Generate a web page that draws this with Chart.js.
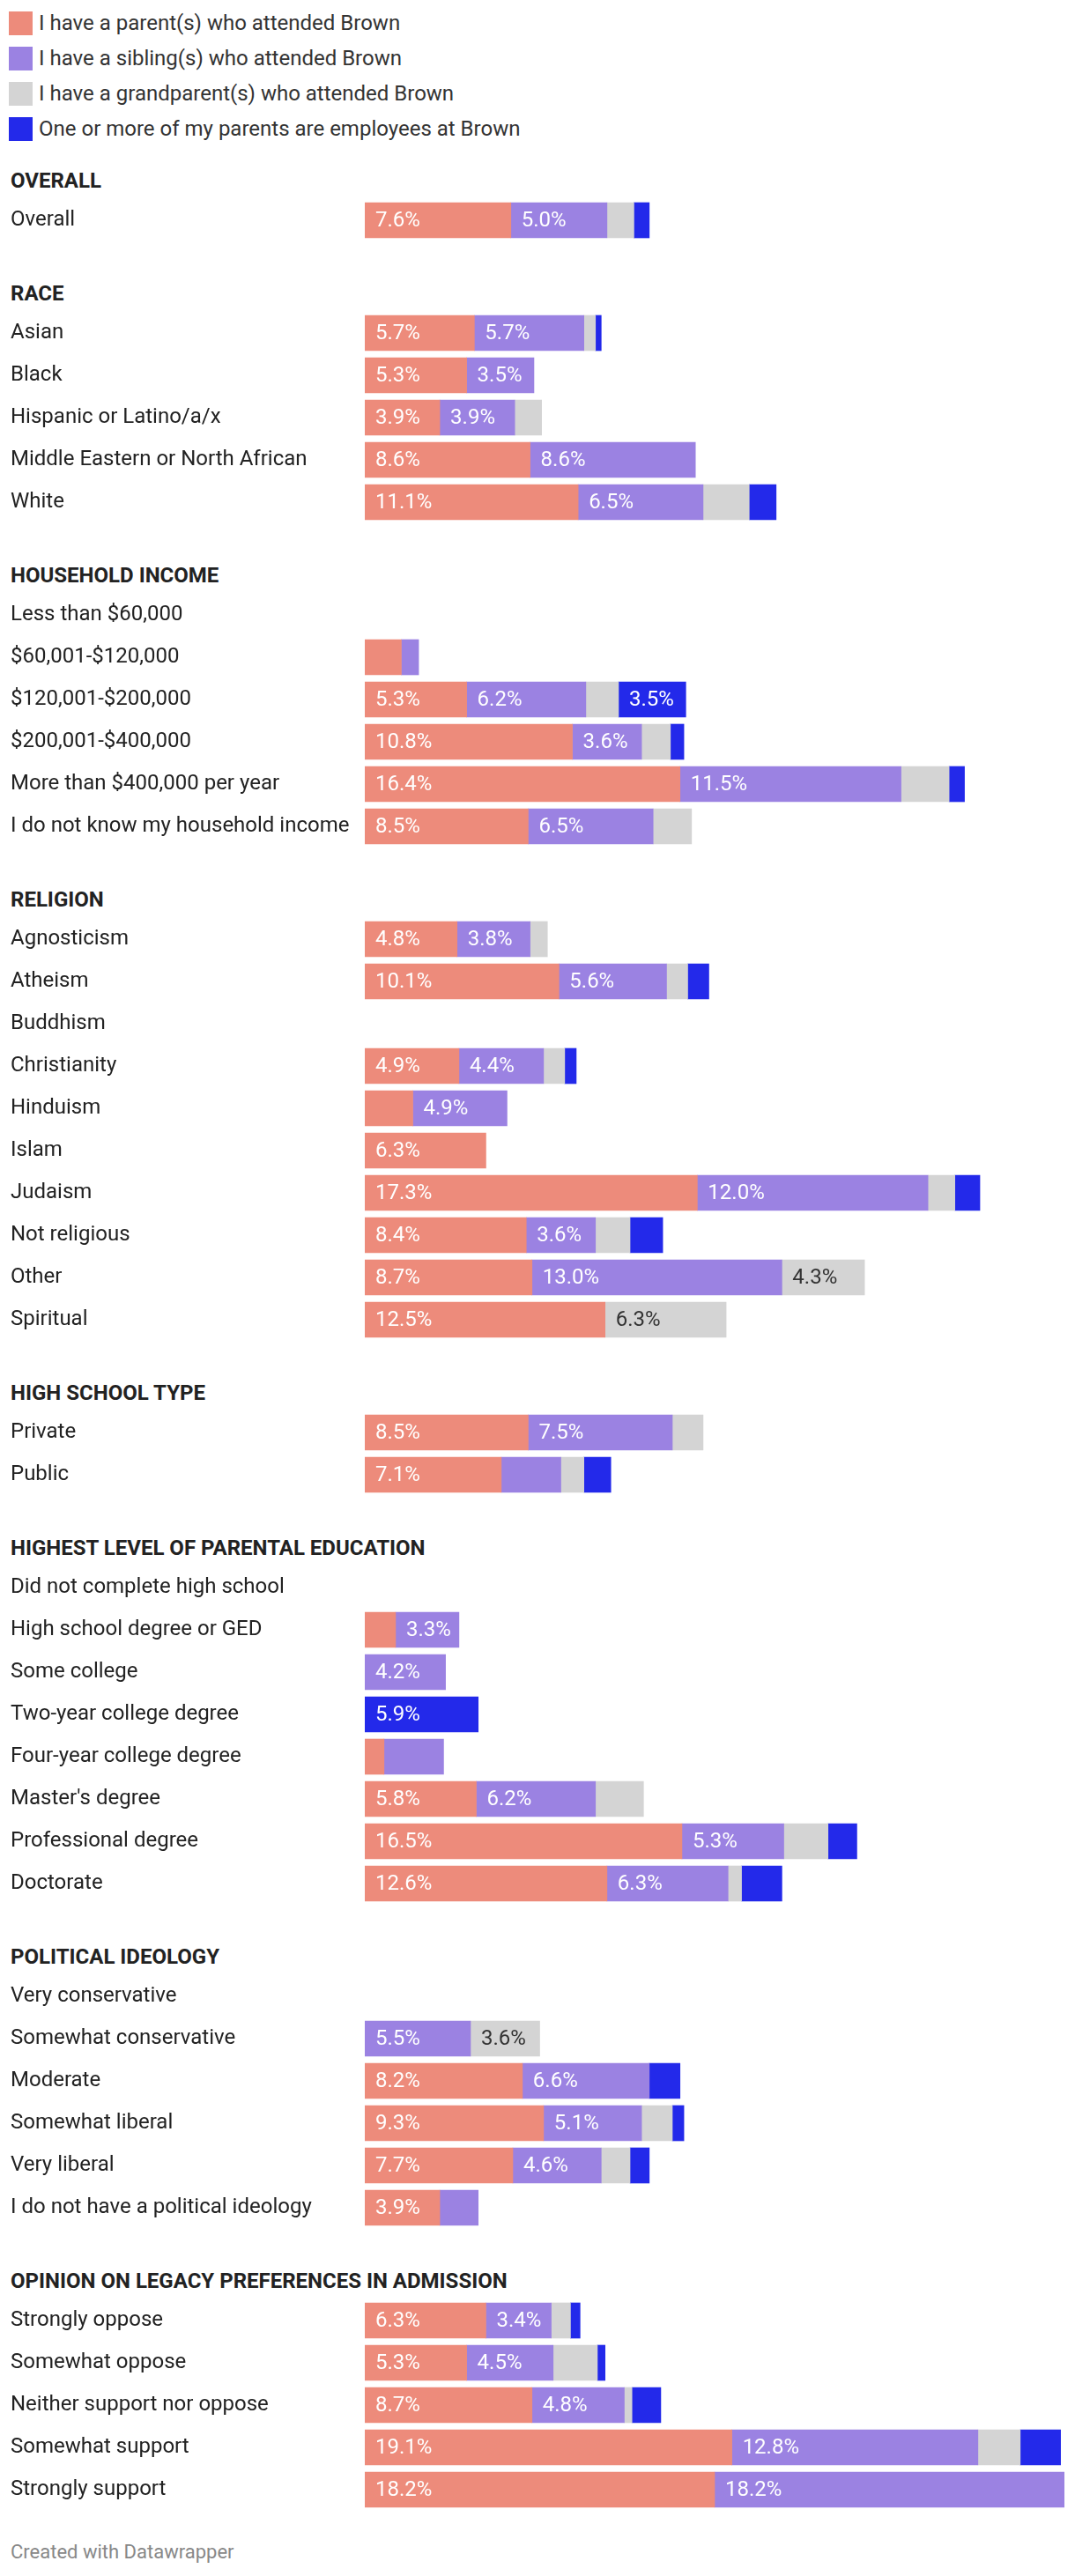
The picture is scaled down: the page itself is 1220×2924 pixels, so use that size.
<!DOCTYPE html>
<html>
<head>
<meta charset="utf-8">
<script src="https://cdn.jsdelivr.net/npm/chart.js@4.4.0/dist/chart.umd.min.js"></script>
<style>
    body {
        margin: 0;
        background: #fff;
        font-family: Roboto, sans-serif;
        color: #222;
    }
    #legend {
        padding: 6px 0 0 10px;
    }
    .legend-item {
        display: flex;
        align-items: center;
        height: 40px;
        font-size: 24px;
        color: #333;
    }
    .legend-item span {
        display: inline-block;
        width: 27px;
        height: 27px;
        margin-right: 7px;
    }
    .group {
        margin-top: 38px;
    }
    .group:first-of-type {
        margin-top: 18px;
    }
    .group h3 {
        margin: 0;
        padding-left: 12px;
        height: 42px;
        line-height: 42px;
        font-size: 24px;
        font-weight: 700;
        color: #222;
    }
    .chart-box {
        position: relative;
        width: 1208px;
    }
    #footer {
        margin-top: 33px;
        padding-left: 12px;
        height: 28px;
        line-height: 28px;
        font-size: 22px;
        color: #888;
    }
</style>
</head>
<body>
<div id="legend"></div>
<div id="groups"></div>
<div id="footer">Created with Datawrapper</div>

<script>
// Series
const seriesNames = [
    'I have a parent(s) who attended Brown',
    'I have a sibling(s) who attended Brown',
    'I have a grandparent(s) who attended Brown',
    'One or more of my parents are employees at Brown'
];
const seriesColors = ['#ED8B7B', '#9B82E2', '#D4D4D4', '#2329EA'];

// Groups and their categories
const groupNames = [
    'OVERALL',
    'RACE',
    'HOUSEHOLD INCOME',
    'RELIGION',
    'HIGH SCHOOL TYPE',
    'HIGHEST LEVEL OF PARENTAL EDUCATION',
    'POLITICAL IDEOLOGY',
    'OPINION ON LEGACY PREFERENCES IN ADMISSION'
];
const categories = [
    ['Overall'],
    ['Asian', 'Black', 'Hispanic or Latino/a/x', 'Middle Eastern or North African', 'White'],
    ['Less than $60,000', '$60,001-$120,000', '$120,001-$200,000', '$200,001-$400,000', 'More than $400,000 per year', 'I do not know my household income'],
    ['Agnosticism', 'Atheism', 'Buddhism', 'Christianity', 'Hinduism', 'Islam', 'Judaism', 'Not religious', 'Other', 'Spiritual'],
    ['Private', 'Public'],
    ['Did not complete high school', 'High school degree or GED', 'Some college', 'Two-year college degree', 'Four-year college degree', "Master's degree", 'Professional degree', 'Doctorate'],
    ['Very conservative', 'Somewhat conservative', 'Moderate', 'Somewhat liberal', 'Very liberal', 'I do not have a political ideology'],
    ['Strongly oppose', 'Somewhat oppose', 'Neither support nor oppose', 'Somewhat support', 'Strongly support']
];

// Values (%), one array per group
const parentValues = [
    [7.6],
    [5.7, 5.3, 3.9, 8.6, 11.1],
    [null, 1.9, 5.3, 10.8, 16.4, 8.5],
    [4.8, 10.1, null, 4.9, 2.5, 6.3, 17.3, 8.4, 8.7, 12.5],
    [8.5, 7.1],
    [null, 1.6, null, null, 1.0, 5.8, 16.5, 12.6],
    [null, null, 8.2, 9.3, 7.7, 3.9],
    [6.3, 5.3, 8.7, 19.1, 18.2]
];
const siblingValues = [
    [5.0],
    [5.7, 3.5, 3.9, 8.6, 6.5],
    [null, 0.9, 6.2, 3.6, 11.5, 6.5],
    [3.8, 5.6, null, 4.4, 4.9, null, 12.0, 3.6, 13.0, null],
    [7.5, 3.1],
    [null, 3.3, 4.2, null, 3.1, 6.2, 5.3, 6.3],
    [null, 5.5, 6.6, 5.1, 4.6, 2.0],
    [3.4, 4.5, 4.8, 12.8, 18.2]
];
const grandparentValues = [
    [1.4],
    [0.6, null, 1.4, null, 2.4],
    [null, null, 1.7, 1.5, 2.5, 2.0],
    [0.9, 1.1, null, 1.1, null, null, 1.4, 1.8, 4.3, 6.3],
    [1.6, 1.2],
    [null, null, null, null, null, 2.5, 2.3, 0.7],
    [null, 3.6, null, 1.6, 1.5, null],
    [1.0, 2.3, 0.4, 2.2, null]
];
const employeeValues = [
    [0.8],
    [0.3, null, null, null, 1.4],
    [null, null, 3.5, 0.7, 0.8, null],
    [null, 1.1, null, 0.6, null, null, 1.3, 1.7, null, null],
    [null, 1.4],
    [null, null, null, 5.9, null, null, 1.5, 2.1],
    [null, null, 1.6, 0.6, 1.0, null],
    [0.5, 0.4, 1.5, 2.1, null]
];

const allSeries = [parentValues, siblingValues, grandparentValues, employeeValues];

// Shared x max: largest stacked total
let xMax = 0;
categories.forEach((cats, g) => {
    cats.forEach((c, i) => {
        const total = allSeries.reduce((sum, s) => sum + (s[g][i] || 0), 0);
        xMax = Math.max(xMax, total);
    });
});

Chart.defaults.font.family = 'Roboto, sans-serif';
Chart.defaults.font.size = 24;
Chart.defaults.color = '#222';

// Legend
const legendEl = document.getElementById('legend');
seriesNames.forEach((name, i) => {
    const item = document.createElement('div');
    item.className = 'legend-item';
    item.innerHTML = '<span style="background:' + seriesColors[i] + '"></span>' + name;
    legendEl.appendChild(item);
});

// Value labels inside segments
const segmentLabels = {
    id: 'segmentLabels',
    afterDatasetsDraw(chart) {
        const ctx = chart.ctx;
        ctx.save();
        ctx.font = '24px Roboto, sans-serif';
        ctx.textBaseline = 'middle';
        ctx.textAlign = 'left';
        chart.data.datasets.forEach((ds, di) => {
            const meta = chart.getDatasetMeta(di);
            meta.data.forEach((bar, i) => {
                const v = ds.data[i];
                if (v == null || v < 3.2) return;
                const p = bar.getProps(['x', 'y', 'base'], true);
                ctx.fillStyle = di === 2 ? '#333' : '#fff';
                ctx.fillText(v.toFixed(1) + '%', p.base + 12, p.y + 1);
            });
        });
        ctx.restore();
    }
};

const groupsEl = document.getElementById('groups');
groupNames.forEach((groupName, g) => {
    const groupDiv = document.createElement('div');
    groupDiv.className = 'group';

    const title = document.createElement('h3');
    title.textContent = groupName;
    groupDiv.appendChild(title);

    const box = document.createElement('div');
    box.className = 'chart-box';
    box.style.height = (categories[g].length * 48) + 'px';
    const canvas = document.createElement('canvas');
    box.appendChild(canvas);
    groupDiv.appendChild(box);
    groupsEl.appendChild(groupDiv);

    new Chart(canvas, {
        type: 'bar',
        data: {
            labels: categories[g],
            datasets: seriesNames.map((name, s) => ({
                label: name,
                data: allSeries[s][g],
                backgroundColor: seriesColors[s],
                borderWidth: 0,
                barThickness: 40
            }))
        },
        options: {
            indexAxis: 'y',
            responsive: true,
            maintainAspectRatio: false,
            animation: false,
            layout: {
                padding: { left: 12, right: 0, top: 0, bottom: 0 }
            },
            plugins: {
                legend: { display: false },
                tooltip: { enabled: false }
            },
            scales: {
                x: {
                    stacked: true,
                    display: false,
                    min: 0,
                    max: xMax
                },
                y: {
                    stacked: true,
                    grid: { display: false },
                    border: { display: false },
                    ticks: {
                        crossAlign: 'far',
                        padding: 0,
                        color: '#222',
                        font: { size: 24 }
                    },
                    afterFit: function(scale) {
                        scale.width = 402;
                        // rows fill the full box height
                        scale.paddingTop = 0;
                        scale.paddingBottom = 0;
                    }
                }
            }
        },
        plugins: [segmentLabels]
    });
});
</script>
</body>
</html>
